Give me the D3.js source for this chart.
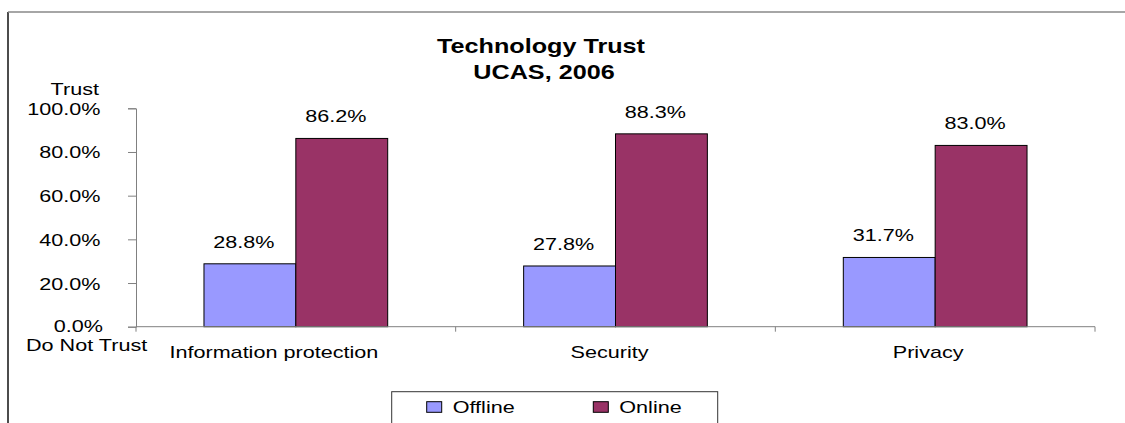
<!DOCTYPE html>
<html>
<head>
<meta charset="utf-8">
<script src="https://cdn.jsdelivr.net/npm/d3@7"></script>
<style>
  html, body { margin: 0; padding: 0; background: #fff; }
  svg { display: block; }
  text { font-family: "Liberation Sans", Arial, sans-serif; fill: #000; }
</style>
</head>
<body>
<svg id="chart" width="1125" height="423"></svg>
<script>
// ---- data ----
const categories = ["Information protection", "Security", "Privacy"];
const seriesNames = ["Offline", "Online"];
const offlineValues = [0.288, 0.278, 0.317];
const onlineValues = [0.862, 0.883, 0.830];
const yTickValues = [0, 0.2, 0.4, 0.6, 0.8, 1.0];
const titleLines = ["Technology Trust", "UCAS, 2006"];
const yTopLabel = "Trust";
const yBottomLabel = "Do Not Trust";
const colors = { Offline: "#9999FF", Online: "#993366" };

const svg = d3.select("#chart");
const SX = 1.35; // horizontal text stretch seen in the reference
const FS = 16;

function addText(g, x, y, str, opts = {}) {
  const t = g.append("text")
    .attr("transform", `translate(${x},${y}) scale(${opts.sx || SX},1)`)
    .attr("text-anchor", opts.anchor || "middle")
    .style("font-size", (opts.size || FS) + "px")
    .text(str);
  if (opts.bold) t.style("font-weight", "bold");
  return t;
}

// frame
svg.append("line").attr("x1", 8).attr("x2", 8).attr("y1", 12).attr("y2", 423)
  .attr("stroke", "#111").attr("stroke-width", 1.5);
svg.append("line").attr("x1", 8).attr("x2", 1125).attr("y1", 12).attr("y2", 12)
  .attr("stroke", "#888").attr("stroke-width", 1.5);

// scales
const x0 = d3.scaleBand().domain(categories).range([136, 1095]).paddingInner(0).paddingOuter(0);
const x1 = d3.scaleBand().domain(seriesNames).range([0, x0.bandwidth()]).paddingInner(0).paddingOuter(0.74);
const y = d3.scaleLinear().domain([0, 1]).range([326.7, 108.3]);

const rows = categories.map((c, i) => ({ cat: c, Offline: offlineValues[i], Online: onlineValues[i] }));

// bars
const groups = svg.append("g").selectAll("g").data(rows).join("g")
  .attr("transform", d => `translate(${x0(d.cat)},0)`);
groups.selectAll("rect").data(d => seriesNames.map(s => ({ s, v: d[s] }))).join("rect")
  .attr("x", d => x1(d.s))
  .attr("y", d => y(d.v))
  .attr("width", x1.bandwidth())
  .attr("height", d => y(0) - y(d.v))
  .attr("fill", d => colors[d.s])
  .attr("stroke", "#000")
  .attr("stroke-width", 1);

// data labels
groups.each(function (d) {
  const g = d3.select(this);
  seriesNames.forEach(s => {
    addText(g, x1(s) + x1.bandwidth() / 2 - 6, y(d[s]) - 16, d3.format(".1%")(d[s]));
  });
});

// y axis
const yAxis = d3.axisLeft(y).tickValues(yTickValues).tickSize(8).tickFormat("");
const yg = svg.append("g").attr("transform", "translate(136,0)").call(yAxis);
yg.select(".domain").attr("stroke", "#808080");
yg.selectAll(".tick line").attr("stroke", "#808080");
const ylab = svg.append("g");
yTickValues.forEach(v => addText(ylab, v === 0 ? 103 : 100.5, y(v) + (v === 0 ? 4.8 : 6.5), d3.format(".1%")(v), { anchor: "end" }));
addText(svg, 99, 95, yTopLabel, { anchor: "end" });
addText(svg, 26, 350.5, yBottomLabel, { anchor: "start" });

// x axis
const xg = svg.append("g").attr("transform", `translate(0,${y(0)})`);
xg.append("line").attr("x1", x0.range()[0]).attr("x2", x0.range()[1]).attr("y1", 0).attr("y2", 0)
  .attr("stroke", "#808080");
const xTicks = categories.map(c => x0(c)).concat([x0.range()[1]]);
xg.selectAll("line.tk").data(xTicks).join("line").attr("class", "tk")
  .attr("x1", d => d).attr("x2", d => d).attr("y1", 0).attr("y2", 5)
  .attr("stroke", "#808080");
const labelShift = [-22, -6, -7];
categories.forEach((c, i) => addText(svg, x0(c) + x0.bandwidth() / 2 + labelShift[i], 358.3, c));

// title
addText(svg, 541, 53.3, titleLines[0], { size: 20, bold: true, sx: 1.26 });
addText(svg, 544, 79.3, titleLines[1], { size: 20, bold: true, sx: 1.26 });

// legend
const lg = svg.append("g");
lg.append("rect").attr("x", 391.7).attr("y", 391.7).attr("width", 326).attr("height", 60)
  .attr("fill", "#fff").attr("stroke", "#333").attr("stroke-width", 1);
const legendPos = [{ s: "Offline", sw: 426.7, tx: 452.7 }, { s: "Online", sw: 593.3, tx: 619.3 }];
legendPos.forEach(p => {
  lg.append("rect").attr("x", p.sw).attr("y", 401.7).attr("width", 15).attr("height", 10.6)
    .attr("fill", colors[p.s]).attr("stroke", "#000").attr("stroke-width", 1);
  addText(lg, p.tx, 413, p.s, { anchor: "start" });
});
</script>
</body>
</html>
